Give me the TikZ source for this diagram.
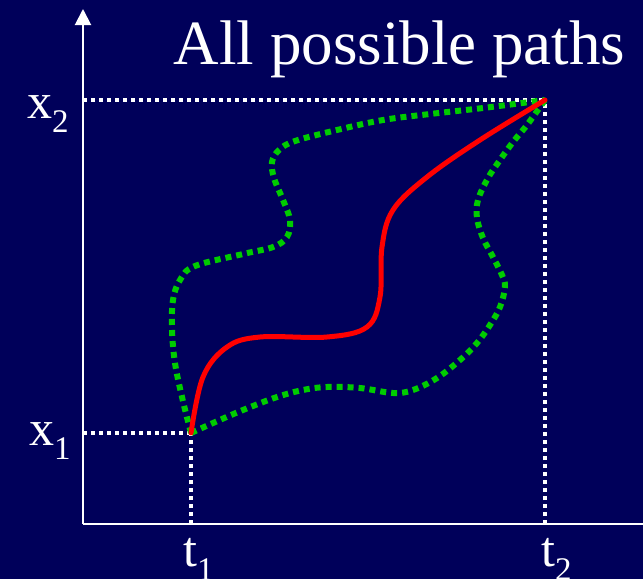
\documentclass[tikz,border=0pt]{standalone}
\usepackage{fontspec}
\setmainfont{Liberation Serif}
\usetikzlibrary{arrows.meta}
\definecolor{slidebg}{RGB}{0,0,90}
\definecolor{pathgreen}{RGB}{0,204,0}
\newcommand{\subidx}[1]{\raisebox{-14pt}{\fontsize{33}{33}\selectfont #1}}

\begin{document}
\begin{tikzpicture}[
    x=1pt, y=-1pt,
    axis/.style={white,line width=2pt},
    guide/.style={white,line width=4pt,dash pattern=on 4pt off 4pt},
    altpath/.style={pathgreen,line width=6pt,dash pattern=on 6pt off 5pt},
    truepath/.style={red,line width=5pt,line cap=round},
    lbl/.style={white,inner sep=0pt,font=\fontsize{50}{50}\selectfont},
  ]

  % --- slide background ---
  \fill[slidebg] (0,0) rectangle (643,579);
  \useasboundingbox (0,0) rectangle (643,579);
  \clip (0,0) rectangle (643,579);

  % --- key points ---
  \coordinate (o)    at (83,524);
  \coordinate (top)  at (83,9);
  \coordinate (xend) at (643,524);
  \coordinate (x1)   at (83,433);
  \coordinate (x2)   at (83,100);
  \coordinate (t1)   at (191,524);
  \coordinate (t2)   at (545,524);
  \coordinate (a)    at (191,433);
  \coordinate (b)    at (545,100);

  % --- axes ---
  \draw[axis,-{Triangle[width=16pt,length=16pt]}] (o) -- (top);
  \draw[axis] (o) -- (xend);

  % --- guide lines to the end points ---
  \draw[guide] (x1) -- (a);
  \draw[guide] (t1) -- (a);
  \draw[guide] (x2) -- (b);
  \draw[guide] (t2) -- (b);

  % --- other paths ---
  \draw[altpath] plot[smooth,tension=0.6] coordinates {
    (191,433) (182,397) (175,363) (172,330) (173,300) (180,280) (195,266)
    (243,254) (273,247) (287,237) (290,220) (283,200) (274,178) (272,162)
    (279,150) (295,141) (337,130) (383,120) (430,114) (483,108) (545,100)};
  \draw[altpath] plot[smooth,tension=0.6] coordinates {
    (191,433) (213,423) (243,410) (277,397) (303,390) (327,387) (360,388)
    (393,393) (413,390) (437,378) (460,360) (477,343) (490,325) (500,307)
    (505,287) (502,275) (493,257) (483,238) (477,218) (478,200) (488,178)
    (500,160) (513,142) (527,125) (545,100)};

  % --- classical path ---
  \draw[truepath] plot[smooth,tension=0.6] coordinates {
    (191,433) (203,377) (227,347) (260,337) (327,337) (367,327) (380,297)
    (382,247) (393,210) (427,177) (480,140) (545,100)};

  % --- labels ---
  \node[lbl,anchor=base west] (x2lbl) at (27,118) {x\subidx{2}};
  \node[lbl,anchor=base west] (x1lbl) at (29,445) {x\subidx{1}};
  \node[lbl,anchor=base west] (t1lbl) at (183,566) {t\subidx{1}};
  \node[lbl,anchor=base west] (t2lbl) at (541,566) {t\subidx{2}};
  \node[lbl,anchor=base,font=\fontsize{63}{63}\selectfont] (title)
    at (399.5,64) {All possible paths};

\end{tikzpicture}
\end{document}
